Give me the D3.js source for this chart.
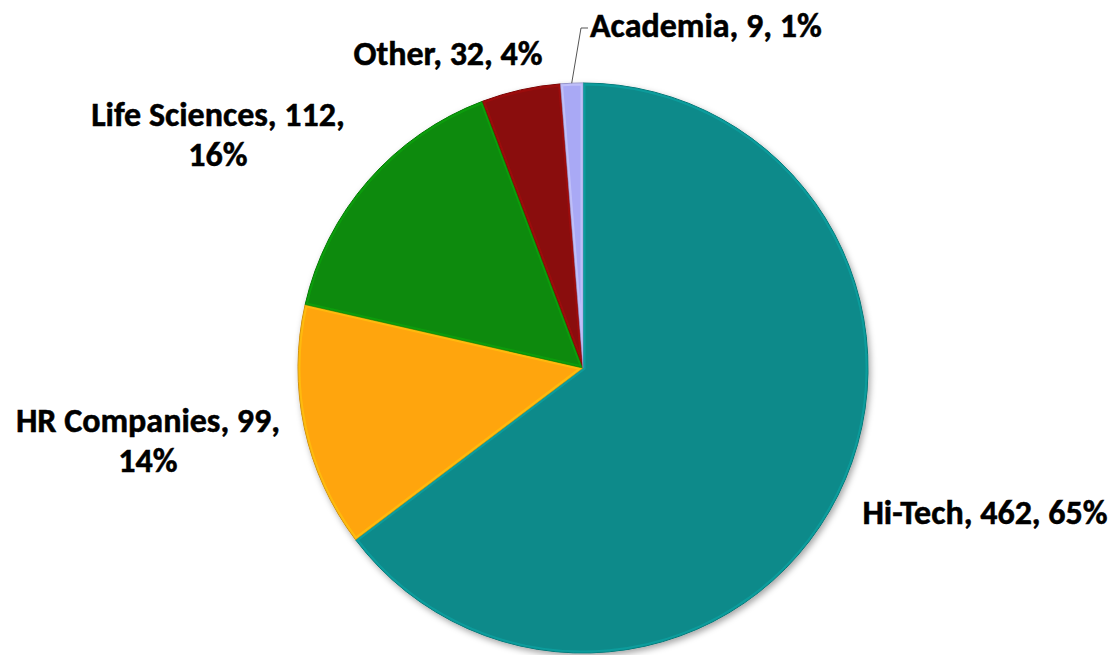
<!DOCTYPE html>
<html>
<head>
<meta charset="utf-8">
<script src="https://cdn.jsdelivr.net/npm/d3@7"></script>
<style>
  body { margin: 0; background: #fff; }
  .lbl { font-family: Carlito, Calibri, Lato, sans-serif; font-weight: bold; font-size: 34px; fill: #000;
         stroke: #000; stroke-width: 0.5px; }
</style>
</head>
<body>
<div id="chart"></div>
<script>
/* sector pie */

const categories = ["Hi-Tech", "HR Companies", "Life Sciences", "Other", "Academia"];
const values = [462, 99, 112, 32, 9];
const colors = ["#088a8a", "#ffa50a", "#088a08", "#8a0808", "#a9a9f5"];

const width = 1114,
    height = 655,
    cx = 583, cy = 368, radius = 285;

// where each label sits (x, first baseline) and how it wraps
const labelPos = [
    { x: 985, y: 524, anchor: "middle", wrap: false },
    { x: 148, y: 432, anchor: "middle", wrap: true },
    { x: 218, y: 126, anchor: "middle", wrap: true },
    { x: 448, y: 65, anchor: "middle", wrap: false },
    { x: 590, y: 37, anchor: "start", wrap: false }
];

const total = d3.sum(values);
const data = categories.map((c, i) => ({ name: c, value: values[i], color: colors[i], pos: labelPos[i] }));

const svg = d3.select("#chart")
    .append("svg")
    .attr("width", width)
    .attr("height", height)
    .attr("viewBox", [0, 0, width, height]);

const defs = svg.append("defs");
const shadow = defs.append("filter")
    .attr("id", "shadow")
    .attr("x", "-10%").attr("y", "-10%")
    .attr("width", "120%").attr("height", "120%");
shadow.append("feDropShadow")
    .attr("dx", 2).attr("dy", 3)
    .attr("stdDeviation", 3)
    .attr("flood-color", "#000")
    .attr("flood-opacity", 0.35);

let pie = d3.pie()
    .value(d => d.value)
    .sort(null);

let arc = d3.arc()
    .innerRadius(0)
    .outerRadius(radius);

const arcs = pie(data);

const g = svg.append("g")
    .attr("transform", `translate(${cx},${cy})`);

g.append("g")
    .attr("filter", "url(#shadow)")
  .selectAll("path")
  .data(arcs)
  .join("path")
    .attr("d", arc)
    .attr("fill", d => d.data.color)
    .attr("stroke", d => d3.color(d.data.color).darker(0.7))
    .attr("stroke-width", 1);

// light inner edge on every slice, gives the bevelled look
const clip = defs.selectAll("clipPath")
  .data(arcs)
  .join("clipPath")
    .attr("id", (d, i) => "clip" + i);
clip.append("path").attr("d", arc);

g.append("g")
  .selectAll("path")
  .data(arcs)
  .join("path")
    .attr("d", arc)
    .attr("clip-path", (d, i) => `url(#clip${i})`)
    .attr("fill", "none")
    .attr("stroke", d => d3.color(d.data.color).brighter(0.7))
    .attr("stroke-width", 5)
    .attr("opacity", 0.45);

// leader line for the tiny Academia slice
const aca = arcs[4];
const mid = (aca.startAngle + aca.endAngle) / 2;
const p0 = [cx + Math.sin(mid) * radius, cy - Math.cos(mid) * radius];
svg.append("path")
    .attr("d", d3.line()([p0, [581, 28], [588, 28]]))
    .attr("fill", "none")
    .attr("stroke", "#555")
    .attr("stroke-width", 1);

// labels
const labels = svg.append("g");
for (let d of data) {
    const pct = Math.round(d.value / total * 100) + "%";
    const t = labels.append("text")
        .attr("class", "lbl")
        .attr("text-anchor", d.pos.anchor)
        .attr("x", d.pos.x)
        .attr("y", d.pos.y);
    if (d.pos.wrap) {
        t.append("tspan").attr("x", d.pos.x).text(`${d.name}, ${d.value},`);
        t.append("tspan").attr("x", d.pos.x).attr("dy", 40).text(pct);
    } else {
        t.text(`${d.name}, ${d.value}, ${pct}`);
    }
}
</script>
</body>
</html>
